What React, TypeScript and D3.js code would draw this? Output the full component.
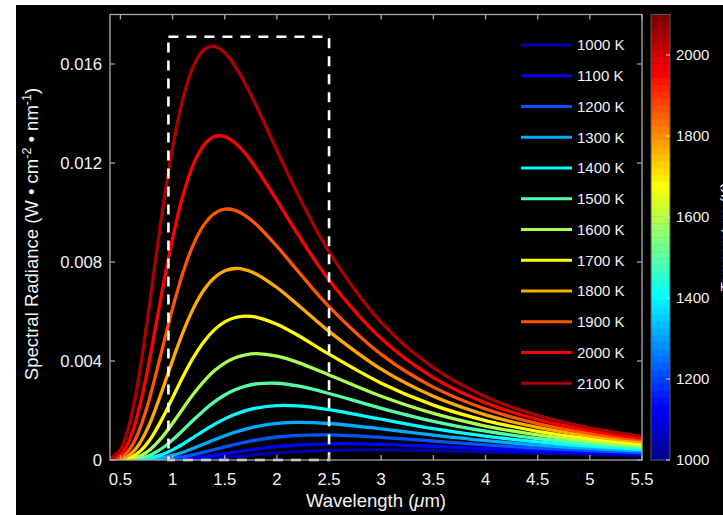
import React from "react";
import * as d3 from "d3";

// Wavelength grid (µm)
const wavelengths = [0.4, 0.5, 0.55, 0.6, 0.65, 0.7, 0.75, 0.8, 0.9, 1.0, 1.1, 1.2, 1.3, 1.4, 1.5, 1.6, 1.7, 1.8, 2.0, 2.2, 2.5, 3.0, 3.5, 4.0, 4.5, 5.0, 5.5];

const temperatures = [1000, 1100, 1200, 1300, 1400, 1500, 1600, 1700, 1800, 1900, 2000, 2100];

// Spectral radiance, in units of 1e-3 W cm^-2 nm^-1
const radiance1000K = [0, 0, 0, 0, 0, 0.0001, 0.0002, 0.0006, 0.0023, 0.0067, 0.0154, 0.0297, 0.0501, 0.0762, 0.1071, 0.1413, 0.177, 0.213, 0.2798, 0.3343, 0.3874, 0.4084, 0.378, 0.3277, 0.275, 0.2272, 0.1866];
const radiance1100K = [0, 0, 0, 0, 0.0002, 0.0005, 0.0013, 0.0029, 0.0098, 0.0249, 0.0507, 0.0884, 0.137, 0.194, 0.2562, 0.32, 0.3823, 0.4405, 0.5384, 0.6065, 0.6551, 0.6344, 0.5534, 0.4595, 0.3732, 0.3006, 0.2418];
const radiance1200K = [0, 0, 0, 0.0003, 0.001, 0.0026, 0.0057, 0.0113, 0.033, 0.0739, 0.1365, 0.2191, 0.3167, 0.4226, 0.5301, 0.6325, 0.7261, 0.8077, 0.9295, 0.9972, 1.0161, 0.9176, 0.7624, 0.611, 0.4831, 0.3815, 0.3016];
const radiance1300K = [0, 0, 0.0004, 0.0015, 0.0041, 0.0096, 0.0196, 0.0356, 0.092, 0.1859, 0.3156, 0.4725, 0.6439, 0.8167, 0.98, 1.126, 1.2497, 1.3492, 1.4761, 1.5198, 1.4748, 1.2562, 1.0023, 0.7802, 0.6032, 0.4677, 0.3651];
const radiance1400K = [0, 0.0005, 0.0018, 0.0056, 0.014, 0.0298, 0.0562, 0.0959, 0.2216, 0.4099, 0.6477, 0.9134, 1.1833, 1.4373, 1.6613, 1.8473, 1.9919, 2.0963, 2.1964, 2.1834, 2.0329, 1.6479, 1.2707, 0.9647, 0.7323, 0.5597, 0.4319];
const radiance1500K = [0, 0.0018, 0.006, 0.0175, 0.04, 0.0793, 0.1401, 0.2256, 0.4742, 0.8133, 1.2077, 1.6177, 2.0047, 2.3455, 2.6243, 2.8367, 2.9839, 3.0717, 3.101, 2.9914, 2.6878, 2.0886, 1.5644, 1.1644, 0.8689, 0.656, 0.5014];
const radiance1600K = [0, 0.0059, 0.0188, 0.0474, 0.1007, 0.1869, 0.3115, 0.4773, 0.9234, 1.4812, 2.0834, 2.6652, 3.1805, 3.6012, 3.917, 4.1309, 4.252, 4.2941, 4.1971, 3.9445, 3.4367, 2.5749, 1.8809, 1.3732, 1.0122, 0.7561, 0.5731];
const radiance1700K = [0.0008, 0.017, 0.0491, 0.1146, 0.2273, 0.3976, 0.6306, 0.9243, 1.6618, 2.5137, 3.3703, 4.1434, 4.7799, 5.2583, 5.5795, 5.7576, 5.815, 5.7746, 5.4866, 5.0403, 4.2749, 3.1029, 2.2178, 1.594, 1.1612, 0.8595, 0.6468];
const radiance1800K = [0.0024, 0.0434, 0.1155, 0.2509, 0.4685, 0.7785, 1.1804, 1.664, 2.8028, 4.0253, 5.1696, 6.1333, 6.8674, 7.3643, 7.6432, 7.7381, 7.6845, 7.5187, 6.968, 6.2738, 5.1973, 3.6688, 2.5729, 1.824, 1.3151, 0.9658, 0.7221];
const radiance1900K = [0.007, 0.1008, 0.2481, 0.5059, 0.8948, 1.4196, 2.0684, 2.8158, 4.4725, 6.1295, 7.5794, 8.7135, 9.4992, 9.9574, 10.1339, 10.0857, 9.8676, 9.5282, 8.6371, 7.6394, 6.1984, 4.2692, 2.9441, 2.0621, 1.4734, 1.0745, 0.7989];
const radiance2000K = [0.018, 0.215, 0.4938, 0.9506, 1.6022, 2.4386, 3.4267, 4.5206, 6.8167, 8.9529, 10.698, 11.954, 12.724, 13.067, 13.068, 12.808, 12.3653, 11.8, 10.488, 9.1307, 7.272, 4.9068, 3.3298, 2.3075, 1.6355, 1.1852, 0.8769];
const radiance2100K = [0.0423, 0.4266, 0.9206, 1.6826, 2.7141, 3.9786, 5.4113, 6.9383, 9.9717, 12.6145, 14.6155, 15.9168, 16.5803, 16.7173, 16.456, 15.9105, 15.176, 14.3308, 12.5134, 10.7405, 8.4138, 5.561, 3.7286, 2.5592, 1.801, 1.2979, 0.956];

const seriesValues = [radiance1000K, radiance1100K, radiance1200K, radiance1300K, radiance1400K, radiance1500K, radiance1600K, radiance1700K, radiance1800K, radiance1900K, radiance2000K, radiance2100K];

const xTicks = [0.5, 1, 1.5, 2, 2.5, 3, 3.5, 4, 4.5, 5, 5.5];
const xTickLabels = ["0.5", "1", "1.5", "2", "2.5", "3", "3.5", "4", "4.5", "5", "5.5"];
const yTicks = [0, 0.004, 0.008, 0.012, 0.016];
const yTickLabels = ["0", "0.004", "0.008", "0.012", "0.016"];
const colorbarTicks = [1000, 1200, 1400, 1600, 1800, 2000];
const highlightBox = { x0: 0.96, x1: 2.5, y0: 0, y1: 0.0171 };

function jet(m: number): string[] {
  const n = Math.ceil(m / 4);
  const u: number[] = [];
  for (let i = 1; i <= n; i++) u.push(i / n);
  for (let i = 0; i < n - 1; i++) u.push(1);
  for (let i = n; i >= 1; i--) u.push(i / n);
  const g0 = Math.ceil(n / 2) - (m % 4 === 1 ? 1 : 0);
  const R = new Array(m).fill(0), G = new Array(m).fill(0), B = new Array(m).fill(0);
  for (let k = 0; k < u.length; k++) {
    const gi = g0 + k + 1;
    const ri = gi + n;
    const bi = gi - n;
    if (gi >= 1 && gi <= m) G[gi - 1] = u[k];
    if (ri >= 1 && ri <= m) R[ri - 1] = u[k];
    if (bi >= 1 && bi <= m) B[bi - 1] = u[k];
  }
  return R.map((r, i) => d3.rgb(r * 255, G[i] * 255, B[i] * 255).formatHex());
}

const W = 723, H = 515;
const plot = { left: 110, right: 642, top: 14.5, bottom: 460 };
const cbar = { left: 651, right: 670 };
const FONT = "'Liberation Sans', Arial, Helvetica, sans-serif";
const TEXT = "#f2f2f2";
const AXIS = "#a8a8a8";

export default function App() {
  const x = d3.scaleLinear().domain([0.4, 5.5]).range([plot.left, plot.right]);
  const y = d3.scaleLinear().domain([0, 0.018]).range([plot.bottom, plot.top]);
  const cy = d3.scaleLinear().domain([1000, 2100]).range([plot.bottom, plot.top]);
  const lineColors = jet(12);
  const cmap = jet(64);
  const line = d3
    .line<number>()
    .x((_, i) => x(wavelengths[i]))
    .y((d) => y(d * 1e-3))
    .curve(d3.curveCatmullRom.alpha(0.5));

  const legendY = (i: number) => 45 + i * 30.76;
  const tickLen = 5;
  const bandH = 1100 / 64;

  return (
    <div style={{ position: "fixed", left: 0, top: 0, width: W, height: H }}>
      <svg width={W} height={H} style={{ display: "block" }} fontFamily={FONT}>
        <rect x={0} y={0} width={W} height={H} fill="#ffffff" />
        <rect x={16} y={5} width={W - 16} height={H - 5} fill="#000000" />
        <defs>
          <clipPath id="plotClip">
            <rect x={plot.left} y={plot.top} width={plot.right - plot.left} height={plot.bottom - plot.top} />
          </clipPath>
        </defs>

        <g clipPath="url(#plotClip)">
          {seriesValues.map((vals, i) => (
            <path key={temperatures[i]} d={line(vals) || ""} fill="none" stroke={lineColors[i]} strokeWidth={3.3} strokeLinejoin="round" />
          ))}
        </g>

        {/* highlight dashed box */}
        <rect
          x={x(highlightBox.x0)}
          y={y(highlightBox.y1)}
          width={x(highlightBox.x1) - x(highlightBox.x0)}
          height={y(highlightBox.y0) - y(highlightBox.y1)}
          fill="none"
          stroke="#ffffff"
          strokeWidth={2.6}
          strokeDasharray="10 8"
        />

        {/* axes frame */}
        <rect x={plot.left} y={plot.top} width={plot.right - plot.left} height={plot.bottom - plot.top} fill="none" stroke={AXIS} strokeWidth={1.3} />
        {xTicks.map((t, i) => (
          <g key={"xt" + t}>
            <line x1={x(t)} x2={x(t)} y1={plot.bottom} y2={plot.bottom - tickLen} stroke={AXIS} strokeWidth={1.3} />
            <line x1={x(t)} x2={x(t)} y1={plot.top} y2={plot.top + tickLen} stroke={AXIS} strokeWidth={1.3} />
            <text x={x(t)} y={485} textAnchor="middle" fontSize={16.7} fill={TEXT}>
              {xTickLabels[i]}
            </text>
          </g>
        ))}
        {yTicks.map((t, i) => (
          <g key={"yt" + t}>
            <line x1={plot.left} x2={plot.left + tickLen} y1={y(t)} y2={y(t)} stroke={AXIS} strokeWidth={1.3} />
            <line x1={plot.right} x2={plot.right - tickLen} y1={y(t)} y2={y(t)} stroke={AXIS} strokeWidth={1.3} />
            <text x={102} y={y(t)} dy="0.35em" textAnchor="end" fontSize={16.7} fill={TEXT}>
              {yTickLabels[i]}
            </text>
          </g>
        ))}

        <text x={(plot.left + plot.right) / 2} y={507} textAnchor="middle" fontSize={18.5} fill={TEXT}>
          Wavelength (<tspan fontStyle="italic">μ</tspan>m)
        </text>
        <text transform={`translate(38, 234) rotate(-90)`} textAnchor="middle" fontSize={18.5} fill={TEXT}>
          Spectral Radiance (W • cm
          <tspan fontSize={12.5} dy={-7}>-2</tspan>
          <tspan dy={7}> • nm</tspan>
          <tspan fontSize={12.5} dy={-7}>-1</tspan>
          <tspan dy={7}>)</tspan>
        </text>

        {/* legend */}
        {temperatures.map((t, i) => (
          <g key={"lg" + t}>
            <line x1={521} x2={572} y1={legendY(i)} y2={legendY(i)} stroke={lineColors[i]} strokeWidth={3} />
            <text x={577} y={legendY(i)} dy="0.36em" fontSize={15} fill={TEXT}>
              {t} K
            </text>
          </g>
        ))}

        {/* colorbar */}
        {cmap.map((c, i) => (
          <rect
            key={"cb" + i}
            x={cbar.left}
            y={cy(1000 + (i + 1) * bandH)}
            width={cbar.right - cbar.left}
            height={cy(1000 + i * bandH) - cy(1000 + (i + 1) * bandH) + 0.5}
            fill={c}
          />
        ))}
        <rect x={cbar.left} y={plot.top} width={cbar.right - cbar.left} height={plot.bottom - plot.top} fill="none" stroke="#5a5a5a" strokeWidth={1} />
        {colorbarTicks.map((t) => (
          <g key={"ct" + t}>
            <line x1={cbar.right} x2={cbar.right - 4} y1={cy(t)} y2={cy(t)} stroke="#dddddd" strokeWidth={1} />
            <text x={676} y={cy(t)} dy="0.36em" fontSize={15} fill={TEXT}>
              {t}
            </text>
          </g>
        ))}
        <text transform={`translate(731, 237) rotate(-90)`} textAnchor="middle" fontSize={15} fill={TEXT}>
          Temperature (K)
        </text>
      </svg>
    </div>
  );
}
